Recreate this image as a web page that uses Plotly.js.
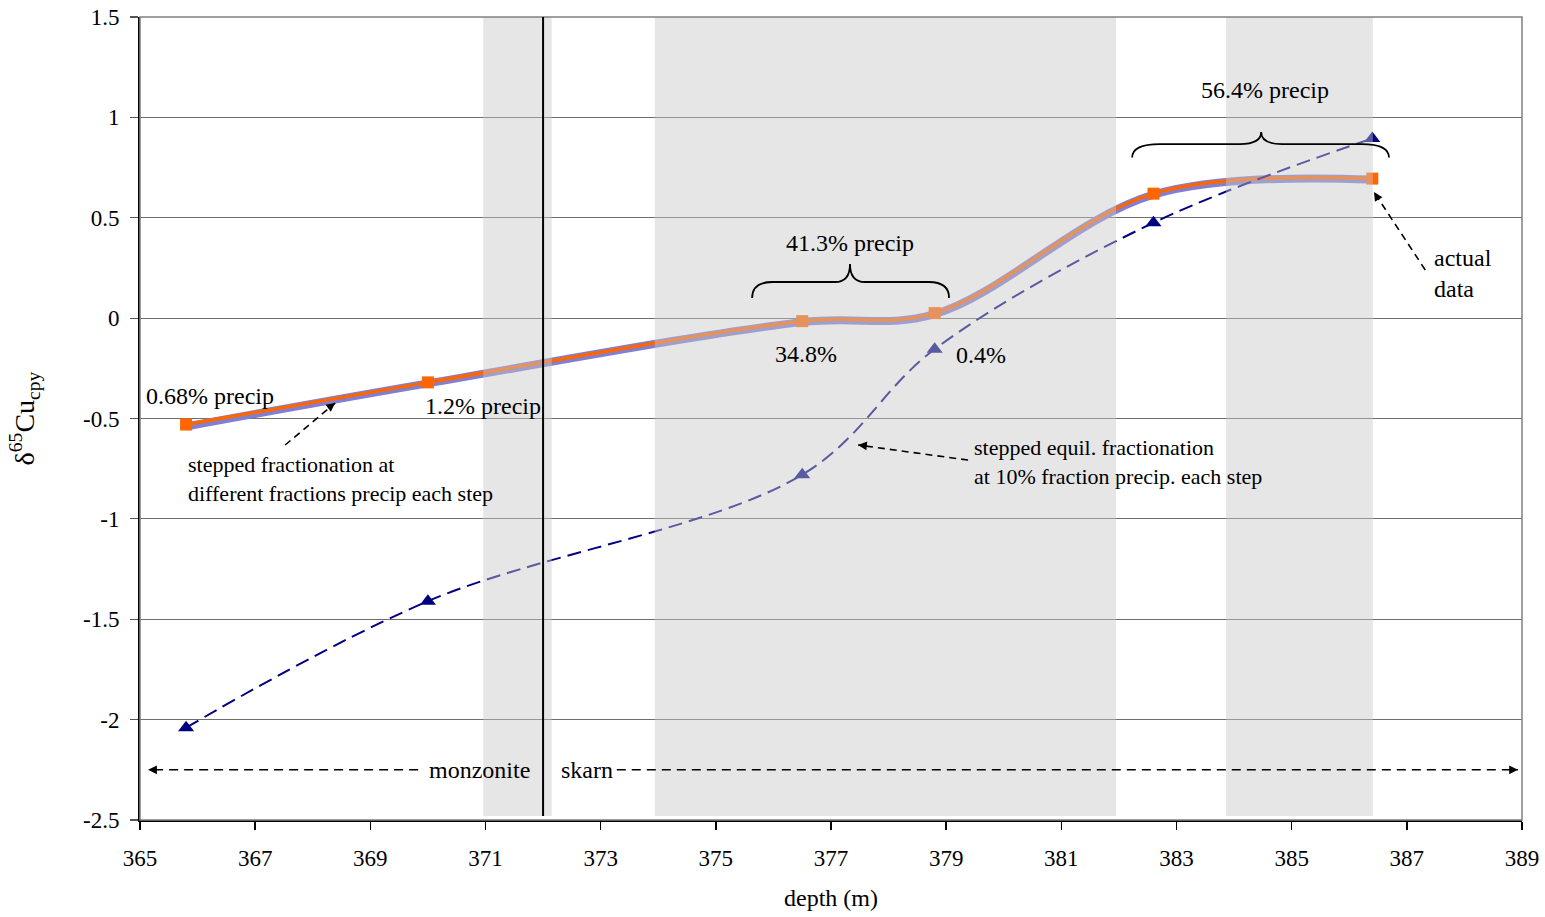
<!DOCTYPE html>
<html>
<head>
<meta charset="utf-8">
<script src="https://cdn.plot.ly/plotly-3.0.1.min.js"></script>
<style>
  html, body { margin: 0; padding: 0; background: #fff; }
  #chart { width: 1545px; height: 917px; }
</style>
</head>
<body>
<div id="chart"></div>
<script>
// Sample depths (m) along the drill core
const depth = [365.8, 370.0, 376.5, 378.8, 382.6, 386.4];

// Measured chalcopyrite δ65Cu
const actualData = [-0.53, -0.32, -0.015, 0.025, 0.62, 0.695];

// Stepped fractionation model, different fraction precipitated at each step
const steppedVariable = [-0.54, -0.325, -0.02, 0.02, 0.615, 0.69];

// Stepped equilibrium fractionation, 10% precipitated at each step
const steppedEquil10 = [-2.04, -1.41, -0.78, -0.155, 0.475, 0.895];

// Axis ticks
const xTicks = [365, 367, 369, 371, 373, 375, 377, 379, 381, 383, 385, 387, 389];
const yTicks = [1.5, 1, 0.5, 0, -0.5, -1, -1.5, -2, -2.5];
const yTickText = ['1.5', '1', '0.5', '0', '-0.5', '-1', '-1.5', '-2', '-2.5'];

// Shaded depth intervals and lithological contact
const bands = [[370.96, 372.15], [373.94, 381.95], [383.86, 386.41]];
const contactDepth = 372.0;

const FONT = 'Liberation Serif, Times New Roman, serif';

const traces = [
  {
    x: depth, y: steppedVariable,
    mode: 'lines',
    line: { color: '#7f7fd6', width: 8, shape: 'spline' },
    hoverinfo: 'skip'
  },
  {
    x: depth, y: actualData,
    mode: 'lines+markers',
    line: { color: '#ff6600', width: 3.5, shape: 'spline' },
    marker: { symbol: 'square', size: 12, color: '#ff6600' }
  },
  {
    x: depth, y: steppedEquil10,
    mode: 'lines+markers',
    line: { color: '#000080', width: 2, dash: '14px,7px', shape: 'spline' },
    marker: { symbol: 'triangle-up', size: 14, color: '#000080' }
  }
];

// Pointer lines: [tail x, tail y, tip x, tip y, head dx px, head dy px]
const pointers = [
  [367.52, -0.632, 368.39, -0.423, -8, 6],
  [379.38, -0.707, 377.47, -0.632, 10, 1],
  [387.32, 0.240, 386.43, 0.628, 5, 8],
  [369.83, -2.25, 365.14, -2.25, 10, 0],
  [373.28, -2.25, 388.93, -2.25, -10, 0]
];

const shapes = [];
bands.forEach(b => shapes.push({
  type: 'rect', xref: 'x', yref: 'y', x0: b[0], x1: b[1], y0: -2.48, y1: 1.5,
  fillcolor: 'rgba(200,200,200,0.45)', line: { width: 0 }, layer: 'above'
}));
// plot frame (top and right edges in grey)
shapes.push({
  type: 'rect', xref: 'paper', yref: 'paper', x0: 0, x1: 1, y0: 0, y1: 1,
  line: { color: '#808080', width: 1.5 }, layer: 'above'
});
// monzonite / skarn contact
shapes.push({
  type: 'line', xref: 'x', yref: 'y', x0: contactDepth, x1: contactDepth, y0: -2.48, y1: 1.5,
  line: { color: '#000', width: 2 }, layer: 'above'
});

// dashed pointer lines
pointers.forEach((p, i) => shapes.push({
  type: 'line', xref: 'x', yref: 'y', x0: p[0], y0: p[1], x1: p[2], y1: p[3],
  line: { color: '#000', width: 1.6, dash: i < 3 ? '7px,5px' : '9px,6px' }, layer: 'above'
}));

// curly braces over the precipitation intervals
shapes.push({
  type: 'path', xref: 'x', yref: 'y', layer: 'above',
  path: 'M 375.63,0.10 Q 375.63,0.18 375.98,0.18 L 377.07,0.18 Q 377.33,0.18 377.33,0.27 ' +
        'Q 377.33,0.18 377.59,0.18 L 378.70,0.18 Q 379.05,0.18 379.05,0.10',
  line: { color: '#000', width: 1.8 }
});
shapes.push({
  type: 'path', xref: 'x', yref: 'y', layer: 'above',
  path: 'M 382.23,0.80 Q 382.23,0.867 382.71,0.867 L 384.10,0.867 Q 384.47,0.867 384.47,0.927 ' +
        'Q 384.47,0.867 384.83,0.867 L 386.22,0.867 Q 386.69,0.867 386.69,0.80',
  line: { color: '#000', width: 1.8 }
});

const txt = (x, y, text, size, extra) => Object.assign({
  x, y, xref: 'x', yref: 'y', text, showarrow: false,
  font: { family: FONT, size: size || 24, color: '#000' }
}, extra || {});

const annotations = [
  txt(366.22, -0.388, '0.68% precip'),
  txt(370.96, -0.438, '1.2% precip'),
  txt(365.80, -0.80, 'stepped fractionation at<br>different fractions precip each step', 22,
      { xanchor: 'left', align: 'left' }),
  txt(377.33, 0.374, '41.3% precip'),
  txt(376.57, -0.179, '34.8%'),
  txt(379.60, -0.184, '0.4%'),
  txt(384.54, 1.136, '56.4% precip'),
  txt(379.45, -0.715, 'stepped equil. fractionation<br>at 10% fraction precip. each step', 22,
      { xanchor: 'left', align: 'left' }),
  txt(387.44, 0.222, 'actual<br>data', 24, { xanchor: 'left', align: 'left' }),
  txt(370.90, -2.25, 'monzonite'),
  txt(372.77, -2.25, 'skarn')
];

// arrowheads at the tips of the pointer lines
pointers.forEach(p => annotations.push({
  x: p[2], y: p[3], xref: 'x', yref: 'y', ax: p[4], ay: p[5], axref: 'pixel', ayref: 'pixel',
  text: '', showarrow: true, arrowhead: 2, arrowsize: 1.1, arrowwidth: 1.6, arrowcolor: '#000'
}));

const layout = {
  width: 1545, height: 917,
  margin: { l: 140, r: 23, t: 17, b: 97 },
  paper_bgcolor: '#fff', plot_bgcolor: '#fff',
  showlegend: false,
  font: { family: FONT, size: 23, color: '#000' },
  xaxis: {
    range: [365, 389], tickvals: xTicks, ticks: 'outside', ticklen: 8, tickcolor: '#000',
    tickwidth: 1.5, showline: true, linecolor: '#000', linewidth: 2, showgrid: false,
    zeroline: false, ticklabelstandoff: 8,
    tickfont: { family: FONT, size: 23 },
    title: { text: 'depth (m)', font: { family: FONT, size: 24 }, standoff: 20 }
  },
  yaxis: {
    range: [-2.5, 1.5], tickvals: yTicks, ticktext: yTickText, ticks: 'outside', ticklen: 8,
    tickcolor: '#555', tickwidth: 1.2, showline: true, linecolor: '#000', linewidth: 2,
    showgrid: true, gridcolor: '#6e6e6e', gridwidth: 1, zeroline: false,
    ticklabelstandoff: 6,
    tickfont: { family: FONT, size: 23 },
    title: { text: 'δ<sup>65</sup>Cu<sub>cpy</sub>', font: { family: FONT, size: 28 }, standoff: 40 }
  },
  shapes, annotations
};

Plotly.newPlot('chart', traces, layout, { displayModeBar: false, staticPlot: true });
</script>
</body>
</html>
